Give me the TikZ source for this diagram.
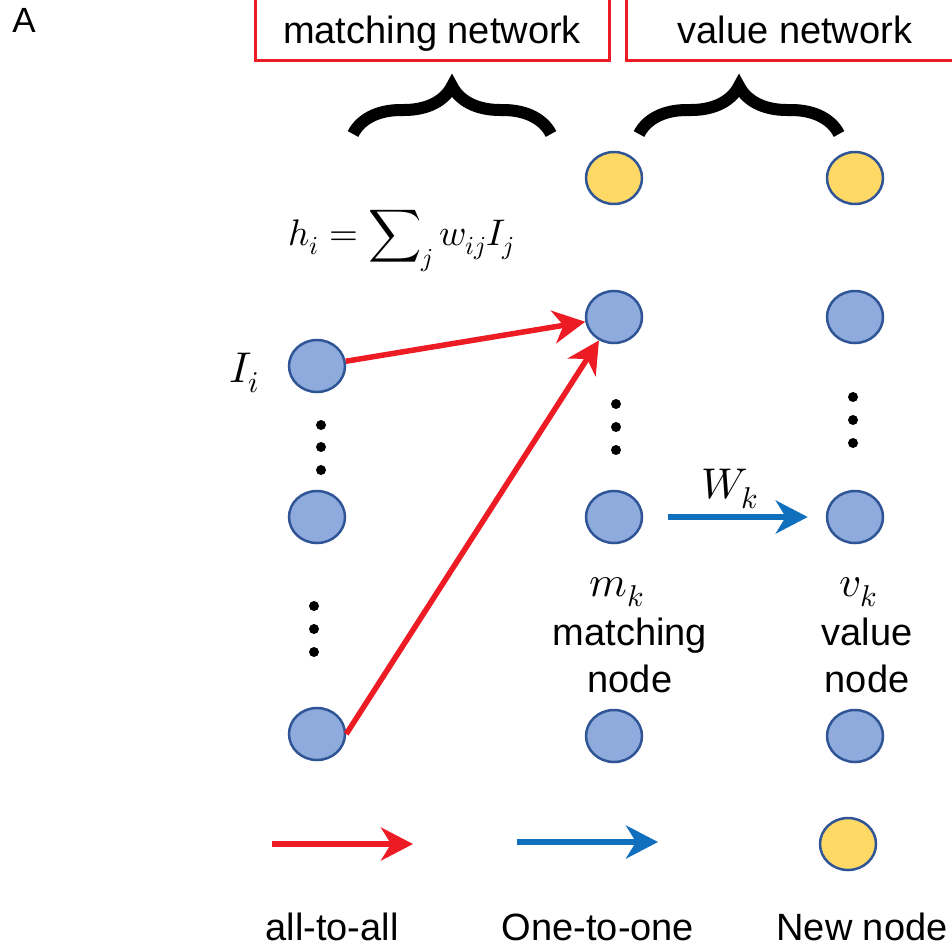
\documentclass[tikz,border=0pt]{standalone}
\usepackage{fontspec}
\usepackage{unicode-math}
\setmainfont{Liberation Sans}
\usepackage{tikz}
\usetikzlibrary{shapes.geometric, arrows.meta, positioning, decorations.pathreplacing}
\definecolor{unitblue}{RGB}{143,170,220}
\definecolor{unitedge}{RGB}{47,85,151}
\definecolor{unityellow}{RGB}{255,217,102}
\definecolor{linkred}{RGB}{237,28,36}
\definecolor{linkblue}{RGB}{16,112,190}
\tikzstyle{unit} = [ellipse, minimum width=56pt, minimum height=52pt, inner sep=0pt, draw=unitedge, line width=2.5pt, fill=unitblue]
\tikzstyle{newunit} = [unit, fill=unityellow]
\tikzstyle{netbox} = [rectangle, draw=linkred, line width=3pt, inner xsep=0pt, inner ysep=0pt, text height=60pt, text depth=17pt, font=\fontsize{38}{47}\selectfont]
\tikzstyle{txt} = [inner sep=0pt, font=\fontsize{38}{47}\selectfont]
\tikzstyle{mathtxt} = [inner sep=0pt, font=\fontsize{43}{50}\selectfont]
\tikzstyle{bracket} = [line width=12pt, decorate, decoration={brace, amplitude=48pt}]
\tikzstyle{allarrow} = [line width=5.5pt, linkred, -{Stealth[length=32pt, width=33pt, inset=10pt]}]
\tikzstyle{onearrow} = [line width=6pt, linkblue, -{Stealth[length=32pt, width=33pt, inset=10pt]}]
\begin{document}
\begin{tikzpicture}[x=1pt, y=-1pt]
\useasboundingbox (0,0) rectangle (952,951);

\node (panel) [txt, font=\fontsize{35}{40}\selectfont, anchor=base] at (24,32) {A};

% network boxes and braces
\node (matchNet) [netbox, minimum width=354pt, anchor=base] at (432,43) {matching network};
\node (valueNet) [netbox, minimum width=338pt, anchor=base] at (795,43) {value network};
\draw [bracket] (353,134) -- (551,134);
\draw [bracket] (639,134) -- (839,134);

% input layer
\node (in1) [unit] at (317,366) {};
\node (in2) [unit] at (317,517) {};
\node (in3) [unit] at (317,734) {};

% matching layer
\node (mNew) [newunit] at (614,178) {};
\node (m1) [unit] at (614,317) {};
\node (mk) [unit] at (614,517) {};
\node (m3) [unit] at (614,736) {};

% value layer
\node (vNew) [newunit] at (855,178) {};
\node (v1) [unit] at (855,317) {};
\node (vk) [unit] at (855,517) {};
\node (v3) [unit] at (855,736) {};

% dots
\foreach \y in {425,447,470} \fill (321,\y) circle (5);
\foreach \y in {606,629,652} \fill (314,\y) circle (5);
\foreach \y in {404,427,450} \fill (616,\y) circle (5);
\foreach \y in {397,420,443} \fill (853,\y) circle (5);

% labels
\node (sumEq) [mathtxt, font=\fontsize{37}{44}\selectfont, anchor=base] at (401,245) {$\displaystyle h_i=\sum\nolimits_j w_{ij}I_j$};
\node (inLabel) [mathtxt, anchor=base] at (244,382) {$I_i$};
\node (wLabel) [mathtxt, anchor=base] at (730,498) {$W_k$};
\node (mLabel) [mathtxt, anchor=base] at (617,596) {$m_k$};
\node (vLabel) [mathtxt, anchor=base] at (858,596) {$v_k$};
\node (mText) [txt, align=center, anchor=base] at (630,692) {matching\\node};
\node (vText) [txt, align=center, anchor=base] at (867,692) {value\\node};

% connections
\draw [allarrow] (in1) -- (m1);
\draw [allarrow] (in3.east) -- (m1);
\draw [onearrow, shorten <=25pt, shorten >=18pt] (mk) -- (vk);

% legend
\coordinate (allStart) at (272,844);
\coordinate (allEnd) at (413,844);
\coordinate (oneStart) at (517,842);
\coordinate (oneEnd) at (658,842);
\draw [allarrow] (allStart) -- (allEnd);
\draw [onearrow] (oneStart) -- (oneEnd);
\node (legNew) [newunit] at (848,844) {};
\node (allText) [txt, anchor=base] at (332,940) {all-to-all};
\node (oneText) [txt, anchor=base] at (598,940) {One-to-one};
\node (newText) [txt, anchor=base] at (862,940) {New node};
\end{tikzpicture}
\end{document}
